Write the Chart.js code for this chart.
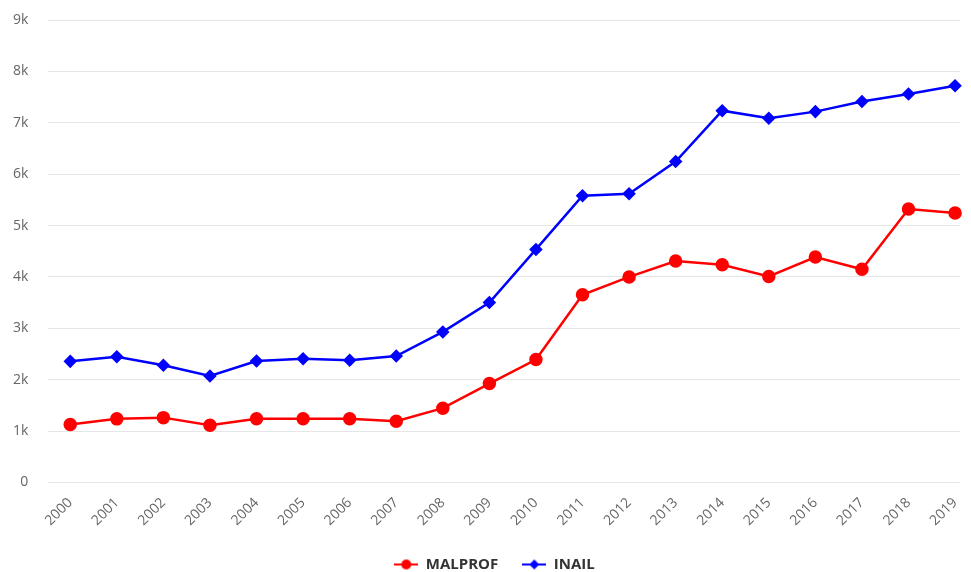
<!DOCTYPE html>
<html>
<head>
<meta charset="utf-8">
<script src="https://cdn.jsdelivr.net/npm/chart.js"></script>
<style>
  html, body { margin: 0; padding: 0; background: #fff; }
  #wrap { width: 971px; height: 572px; position: relative; }
</style>
</head>
<body>
<div id="wrap"><canvas id="chart" width="971" height="572"></canvas></div>
<script>
// years on the x axis
const years = ["2000", "2001", "2002", "2003", "2004", "2005", "2006", "2007", "2008", "2009",
               "2010", "2011", "2012", "2013", "2014", "2015", "2016", "2017", "2018", "2019"];

// values
const malprof = [1130, 1238, 1262, 1115, 1242, 1242, 1242, 1192, 1446, 1925,
                 2392, 3652, 4000, 4310, 4236, 4010, 4386, 4150, 5322, 5245];
const inail = [2357, 2448, 2280, 2071, 2364, 2409, 2377, 2461, 2930, 3503,
               4535, 5580, 5620, 6245, 7236, 7088, 7217, 7412, 7560, 7722];

const yTicks = [0, 1000, 2000, 3000, 4000, 5000, 6000, 7000, 8000, 9000];

// small line+marker icon for the legend
function legendIcon(color, style) {
  const c = document.createElement("canvas");
  c.width = 24; c.height = 12;
  const g = c.getContext("2d");
  g.strokeStyle = color;
  g.lineWidth = 2;
  g.beginPath(); g.moveTo(0, 6); g.lineTo(24, 6); g.stroke();
  g.fillStyle = color;
  g.beginPath();
  if (style === "circle") {
    g.arc(12, 6, 5, 0, Math.PI * 2);
  } else {
    g.moveTo(12, 1); g.lineTo(17, 6); g.lineTo(12, 11); g.lineTo(7, 6); g.closePath();
  }
  g.fill();
  return c;
}
const icons = [legendIcon("#ff0000", "circle"), legendIcon("#0000ff", "diamond")];

new Chart(document.getElementById("chart"), {
  type: "line",
  data: {
    labels: years,
    datasets: [
      {
        label: "MALPROF",
        data: malprof,
        borderColor: "#ff0000",
        backgroundColor: "#ff0000",
        borderWidth: 2.5,
        pointStyle: "circle",
        pointRadius: 5.5,
        pointHoverRadius: 5.5,
        tension: 0,
        clip: false
      },
      {
        label: "INAIL",
        data: inail,
        borderColor: "#0000ff",
        backgroundColor: "#0000ff",
        borderWidth: 2.5,
        pointStyle: "rectRot",
        pointRadius: 5,
        pointHoverRadius: 5,
        tension: 0,
        clip: false
      }
    ]
  },
  options: {
    responsive: false,
    animation: false,
    layout: { padding: { left: 13, right: -5, top: 20, bottom: -10 } },
    scales: {
      x: {
        type: "linear",
        min: 1999.53,
        max: 2019.1,
        grid: { display: false },
        border: { display: false },
        ticks: {
          stepSize: 1,
          includeBounds: false,
          autoSkip: false,
          minRotation: 45,
          maxRotation: 45,
          padding: 4,
          color: "#666666",
          font: { family: "'Open Sans', sans-serif", size: 14 },
          callback: v => String(v)
        }
      },
      y: {
        min: 0,
        max: 9000,
        // invisible tick marks give the gap between labels and plot
        grid: { color: "#e6e6e6", lineWidth: 1, drawTicks: true, tickLength: 20, tickColor: "rgba(0,0,0,0)" },
        border: { display: false },
        afterBuildTicks: axis => { axis.ticks = yTicks.map(v => ({ value: v })); },
        ticks: {
          padding: 0,
          color: "#666666",
          font: { family: "'Open Sans', sans-serif", size: 14 },
          callback: v => v === 0 ? "0" : (v / 1000) + "k"
        }
      }
    },
    plugins: {
      tooltip: { enabled: false },
      legend: {
        position: "bottom",
        labels: {
          usePointStyle: true,
          pointStyleWidth: 24,
          padding: 24,
          color: "#333333",
          font: { family: "'Open Sans', sans-serif", size: 15, weight: "bold" },
          generateLabels: chart => {
            const items = Chart.defaults.plugins.legend.labels.generateLabels(chart);
            items.forEach((it, i) => { it.pointStyle = icons[i]; });
            return items;
          }
        }
      }
    }
  }
});
</script>
</body>
</html>
